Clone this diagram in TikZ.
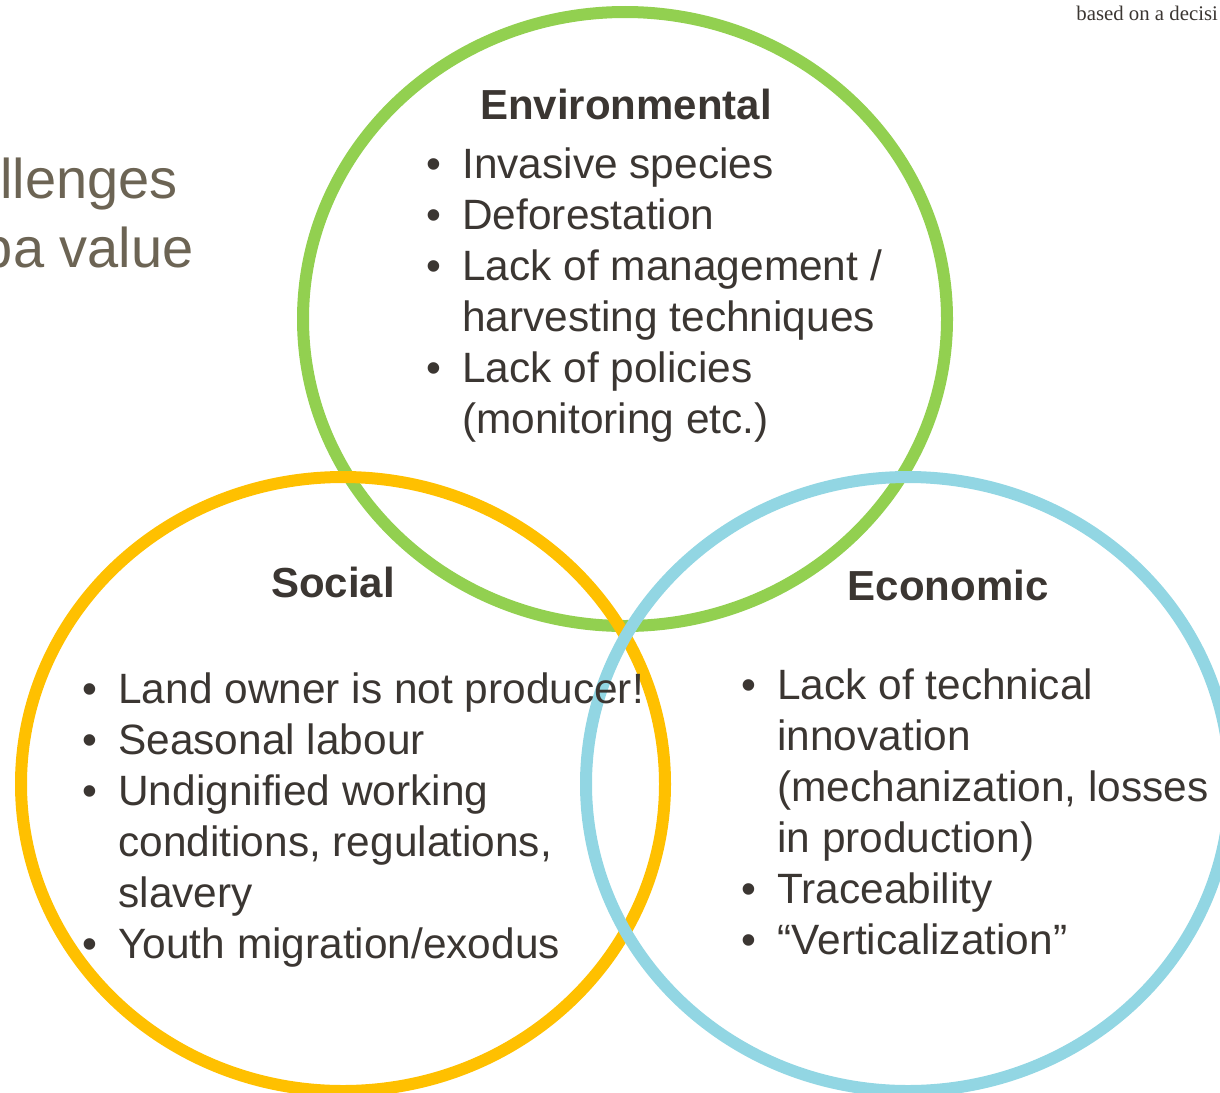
\documentclass[tikz,border=0pt]{standalone}
\usepackage{fontspec}
\setmainfont{Liberation Sans}
\newfontfamily\notefont{Liberation Serif}
\usetikzlibrary{positioning}
\definecolor{ringgreen}{HTML}{92D050}
\definecolor{ringyellow}{HTML}{FFC000}
\definecolor{ringblue}{HTML}{92D6E3}
\definecolor{bodytext}{HTML}{3B3632}
\definecolor{titletext}{HTML}{6C6454}
\newcommand{\itm}[1]{\makebox[18pt][l]{\textbullet}#1}
\newcommand{\cnt}[1]{\makebox[18pt][l]{}#1}

\begin{document}
\begin{tikzpicture}[x=0.5pt, y=-0.5pt,
	ring/.style={line width=6pt},
	head/.style={font=\fontsize{21}{25.5}\selectfont\bfseries, text=bodytext, inner sep=0pt, anchor=base},
	list/.style={font=\fontsize{21.2}{25.5}\selectfont, text=bodytext, align=left, inner sep=0pt, anchor=base west},
	title/.style={font=\fontsize{28}{33.5}\selectfont, text=titletext, inner sep=0pt, anchor=base east}]
			\useasboundingbox (0,0) rectangle (1220,1092);
			\clip (0,0) rectangle (1220,1092);
			\draw[ring, ringgreen] (625,319) ellipse [x radius=322, y radius=307];
			\draw[ring, ringyellow] (343,784) ellipse [x radius=322, y radius=307];
			\draw[ring, ringblue] (908,784) ellipse [x radius=322, y radius=307];
			\node[title] (TitleTop) at (178,198) {llenges};
			\node[title] (TitleBottom) at (194,267) {pa value};
			\node[font=\notefont\fontsize{10.4}{12.5}\selectfont, text=bodytext, inner sep=0pt, anchor=base west] (Note) at (1076,20) {based on a decisi};
			% lists are placed by the baseline of their last line
			\node[head] (EnvHead) at (626,119) {Environmental};
			\node[list] (EnvList) at (426,433) {\itm{Invasive species}\\\itm{Deforestation}\\\itm{Lack of management /}\\\cnt{harvesting techniques}\\\itm{Lack of policies}\\\cnt{(monitoring etc.)}};
			\node[head] (SocHead) at (333,597) {Social};
			\node[list] (SocList) at (82,958) {\itm{Land owner is not producer!}\\\itm{Seasonal labour}\\\itm{Undignified working}\\\cnt{conditions, regulations,}\\\cnt{slavery}\\\itm{Youth migration/exodus}};
			\node[head] (EcoHead) at (948,600) {Economic};
			\node[list] (EcoList) at (741,954) {\itm{Lack of technical}\\\cnt{innovation}\\\cnt{(mechanization, losses}\\\cnt{in production)}\\\itm{Traceability}\\\itm{“Verticalization”}};
		\end{tikzpicture}
\end{document}
